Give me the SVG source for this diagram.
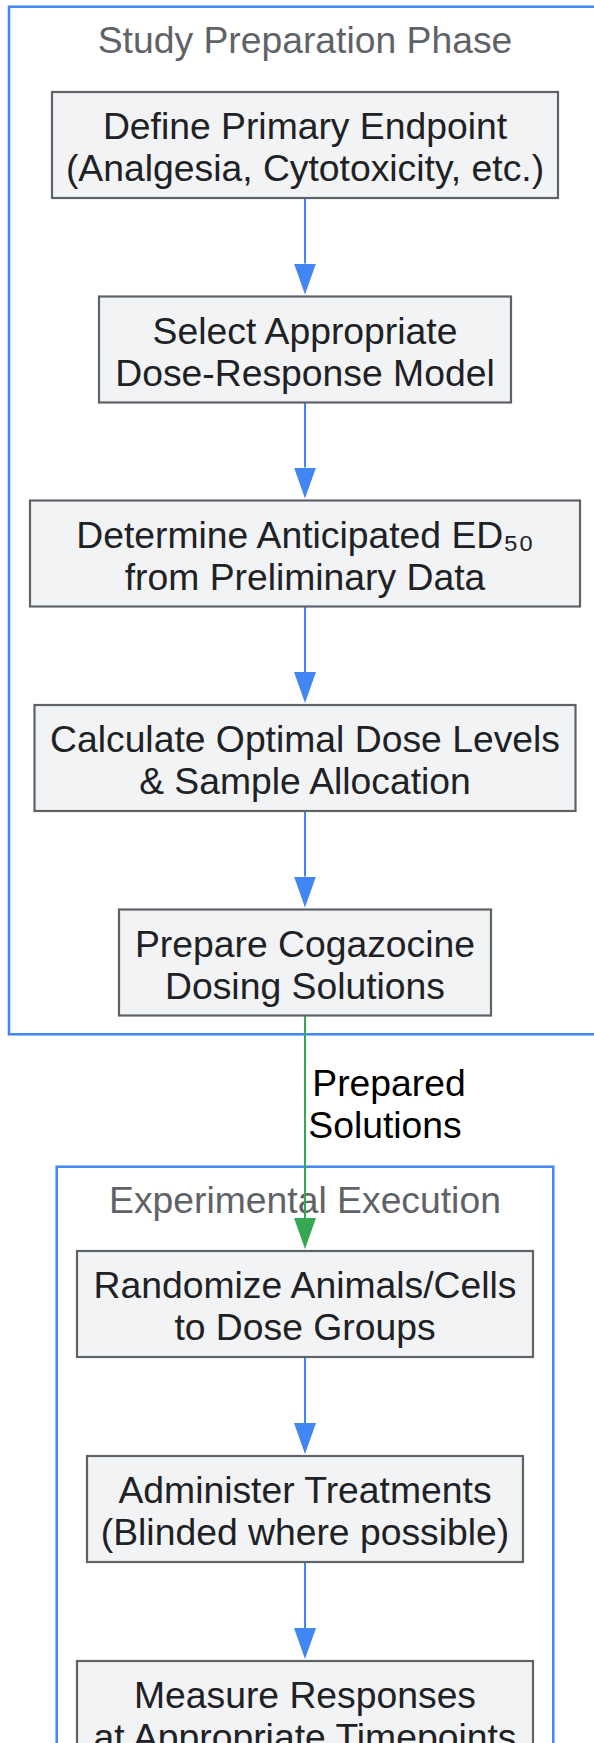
<svg xmlns="http://www.w3.org/2000/svg" width="594" height="1743" viewBox="0 0 594 1743">
<style>
.cluster{fill:none;stroke:#4285f4;stroke-width:2.5}
.ctitle{font-family:"Liberation Sans",Arial,sans-serif;font-size:37.3px;fill:#5f6368;text-anchor:middle}
.node rect{fill:#f1f3f4;stroke:#5f6368;stroke-width:2.2}
.node text{font-family:"Liberation Sans",Arial,"DejaVu Sans",sans-serif;font-size:37.3px;fill:#202124;text-anchor:middle}
.edge{fill:none;stroke-width:2}
.blue{stroke:#4285f4}
.green{stroke:#34a853}
.elabel{font-family:"Liberation Sans",Arial,sans-serif;font-size:37.3px;fill:#000;text-anchor:middle}
</style>
<defs>
<marker id="ab" viewBox="0 0 31 22" refX="0" refY="11" markerWidth="31" markerHeight="22" markerUnits="userSpaceOnUse" orient="auto"><path d="M0,0 L31,11 L0,22 z" fill="#4285f4"/></marker>
<marker id="ag" viewBox="0 0 31 22" refX="0" refY="11" markerWidth="31" markerHeight="22" markerUnits="userSpaceOnUse" orient="auto"><path d="M0,0 L31,11 L0,22 z" fill="#34a853"/></marker>
</defs>
<rect width="594" height="1743" fill="#fff"/>
<g id="cluster-prep">
<rect class="cluster" x="9" y="6.7" width="592" height="1027.6"/>
<text class="ctitle" x="305" y="52.7">Study Preparation Phase</text>
</g>
<g id="cluster-exec">
<rect class="cluster" x="56.7" y="1166.7" width="496.6" height="600"/>
<text class="ctitle" x="305" y="1212.5">Experimental Execution</text>
</g>
<g id="edges">
<path class="edge blue" d="M305,198 L305,263.5" marker-end="url(#ab)"/>
<path class="edge blue" d="M305,402.5 L305,467.5" marker-end="url(#ab)"/>
<path class="edge blue" d="M305,606.5 L305,672" marker-end="url(#ab)"/>
<path class="edge blue" d="M305,811 L305,876.5" marker-end="url(#ab)"/>
<path class="edge green" d="M305,1015.5 L305,1218" marker-end="url(#ag)"/>
<path class="edge blue" d="M305,1357 L305,1423" marker-end="url(#ab)"/>
<path class="edge blue" d="M305,1562 L305,1628" marker-end="url(#ab)"/>
<g id="edge-label"><text class="elabel" x="389" y="1096">Prepared</text><text class="elabel" x="385" y="1138">Solutions</text></g>
</g>
<g id="n1" class="node"><rect x="52" y="92" width="506" height="106"/><text x="305" y="139">Define Primary Endpoint</text><text x="305" y="181">(Analgesia, Cytotoxicity, etc.)</text></g>
<g id="n2" class="node"><rect x="99" y="296.5" width="412" height="106"/><text x="305" y="343.5">Select Appropriate</text><text x="305" y="385.5">Dose-Response Model</text></g>
<g id="n3" class="node"><rect x="30" y="500.5" width="550" height="106"/><text x="305" y="547.5">Determine Anticipated ED₅₀</text><text x="305" y="589.5">from Preliminary Data</text></g>
<g id="n4" class="node"><rect x="34.5" y="705" width="541" height="106"/><text x="305" y="752">Calculate Optimal Dose Levels</text><text x="305" y="794">&amp; Sample Allocation</text></g>
<g id="n5" class="node"><rect x="119" y="909.5" width="372" height="106"/><text x="305" y="956.5">Prepare Cogazocine</text><text x="305" y="998.5">Dosing Solutions</text></g>
<g id="n6" class="node"><rect x="77" y="1251" width="456" height="106"/><text x="305" y="1298">Randomize Animals/Cells</text><text x="305" y="1340">to Dose Groups</text></g>
<g id="n7" class="node"><rect x="87" y="1456" width="436" height="106"/><text x="305" y="1503">Administer Treatments</text><text x="305" y="1545">(Blinded where possible)</text></g>
<g id="n8" class="node"><rect x="77" y="1661" width="456" height="106"/><text x="305" y="1708">Measure Responses</text><text x="305" y="1750">at Appropriate Timepoints</text></g>
</svg>
